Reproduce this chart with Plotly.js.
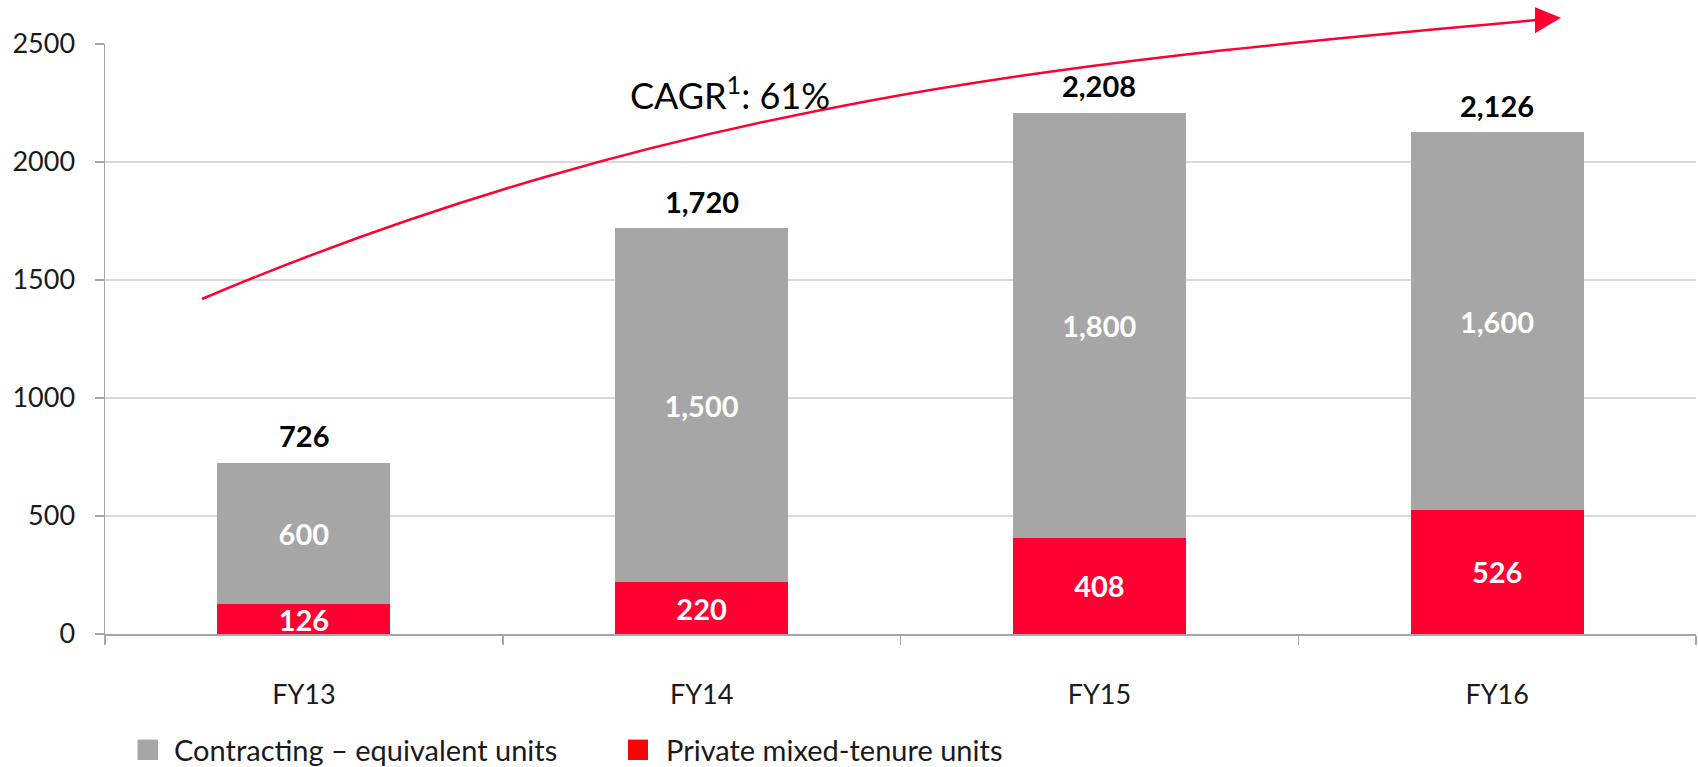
<!DOCTYPE html>
<html><head><meta charset="utf-8">
<script src="https://cdn.plot.ly/plotly-3.0.1.min.js"></script>
<style>html,body{margin:0;padding:0;background:#fff}</style>
</head><body><div id="chart" style="width:1698px;height:767px"></div>
<script>
// ---- data ----
const categories = ['FY13', 'FY14', 'FY15', 'FY16'];
const contractingUnits = [600, 1500, 1800, 1600];
const privateUnits = [126, 220, 408, 526];
const seriesNames = ['Contracting – equivalent units', 'Private mixed-tenure units'];
const yTickValues = [0, 500, 1000, 1500, 2000, 2500];
const cagrLabel = 'CAGR<sup>1</sup>: 61%';

const totals = categories.map((c, i) => contractingUnits[i] + privateUnits[i]);
const fmt = v => v.toLocaleString('en-US');

// ---- styling ----
const FONT = 'Lato, "Open Sans", sans-serif';
const GREY = '#A6A6A6';
const RED = '#FF0033';
const W = 1698, H = 767;
const M = {l: 105, r: 2, t: 44, b: 133};
const PW = W - M.l - M.r, PH = H - M.t - M.b;
const px = x => (x - M.l) / PW;
const py = y => (H - M.b - y) / PH;
const P = (x, y) => px(x).toFixed(5) + ',' + py(y).toFixed(5);

const segFont = {family: FONT, size: 29, color: '#FFFFFF', weight: 700};

const traces = [
  {
    type: 'bar', name: seriesNames[1], x: categories, y: privateUnits,
    marker: {color: RED},
    texttemplate: '%{y:,}', textposition: 'inside', insidetextanchor: 'middle',
    constraintext: 'none', textfont: segFont,
    hoverinfo: 'skip', showlegend: false
  },
  {
    type: 'bar', name: seriesNames[0], x: categories, y: contractingUnits,
    marker: {color: GREY},
    texttemplate: '%{y:,}', textposition: 'inside', insidetextanchor: 'middle',
    constraintext: 'none', textfont: segFont,
    hoverinfo: 'skip', showlegend: false
  }
];

const annotations = categories.map((c, i) => ({
  x: c, y: totals[i], xref: 'x', yref: 'y',
  text: fmt(totals[i]), showarrow: false,
  yanchor: 'middle', yshift: 27,
  font: {family: FONT, size: 29, color: '#000000', weight: 700}
}));

annotations.push({
  xref: 'paper', yref: 'paper', x: px(730), y: py(93),
  xanchor: 'center', yanchor: 'middle', showarrow: false,
  text: cagrLabel, font: {family: FONT, size: 36, color: '#000000'}
});

// custom legend
annotations.push({
  xref: 'paper', yref: 'paper', x: px(172), y: py(749), xanchor: 'left', yanchor: 'middle',
  showarrow: false, text: seriesNames[0], font: {family: FONT, size: 29, color: '#1a1a1a'}
});
annotations.push({
  xref: 'paper', yref: 'paper', x: px(664), y: py(749), xanchor: 'left', yanchor: 'middle',
  showarrow: false, text: seriesNames[1], font: {family: FONT, size: 29, color: '#1a1a1a'}
});

const shapes = [
  {type: 'rect', xref: 'paper', yref: 'paper', x0: px(137.5), x1: px(158), y0: py(760), y1: py(739.6),
   fillcolor: GREY, line: {width: 0}},
  {type: 'rect', xref: 'paper', yref: 'paper', x0: px(628), x1: px(648), y0: py(760), y1: py(739.6),
   fillcolor: '#FF0000', line: {width: 0}},
  // CAGR growth curve
  {type: 'path', xref: 'paper', yref: 'paper',
   path: 'M' + P(202, 299) + ' C' + P(702, 87) + ' ' + P(1135, 57.6) + ' ' + P(1537, 20),
   line: {color: RED, width: 2.5}, fillcolor: 'rgba(0,0,0,0)'},
  {type: 'path', xref: 'paper', yref: 'paper',
   path: 'M' + P(1561, 17.7) + ' L' + P(1535, 7.3) + ' L' + P(1535, 33.3) + ' Z',
   line: {color: RED, width: 0}, fillcolor: RED}
];

const layout = {
  width: W, height: H,
  margin: M,
  paper_bgcolor: '#FFFFFF', plot_bgcolor: '#FFFFFF',
  font: {family: FONT, size: 27, color: '#1a1a1a'},
  barmode: 'stack', bargap: 0.565,
  showlegend: false,
  xaxis: {
    type: 'category', range: [-0.5, 3.5],
    tickson: 'boundaries', ticks: 'outside', ticklen: 9, tickcolor: GREY, tickwidth: 1.5,
    showline: true, linecolor: GREY, linewidth: 1.5,
    showgrid: false, zeroline: false,
    ticklabelstandoff: 36,
    tickfont: {family: FONT, size: 27, color: '#1a1a1a'}
  },
  yaxis: {
    range: [0, 2500], tickvals: yTickValues, ticktext: yTickValues.map(String),
    ticks: 'outside', ticklen: 9, tickcolor: GREY, tickwidth: 1.5,
    showline: true, linecolor: GREY, linewidth: 1.5,
    showgrid: true, gridcolor: '#D9D9D9', gridwidth: 1.2,
    zeroline: false,
    ticklabelstandoff: 14,
    tickfont: {family: FONT, size: 27, color: '#1a1a1a'}
  },
  annotations: annotations,
  shapes: shapes
};

Plotly.newPlot('chart', traces, layout, {displayModeBar: false, staticPlot: true});
</script>
</body></html>
